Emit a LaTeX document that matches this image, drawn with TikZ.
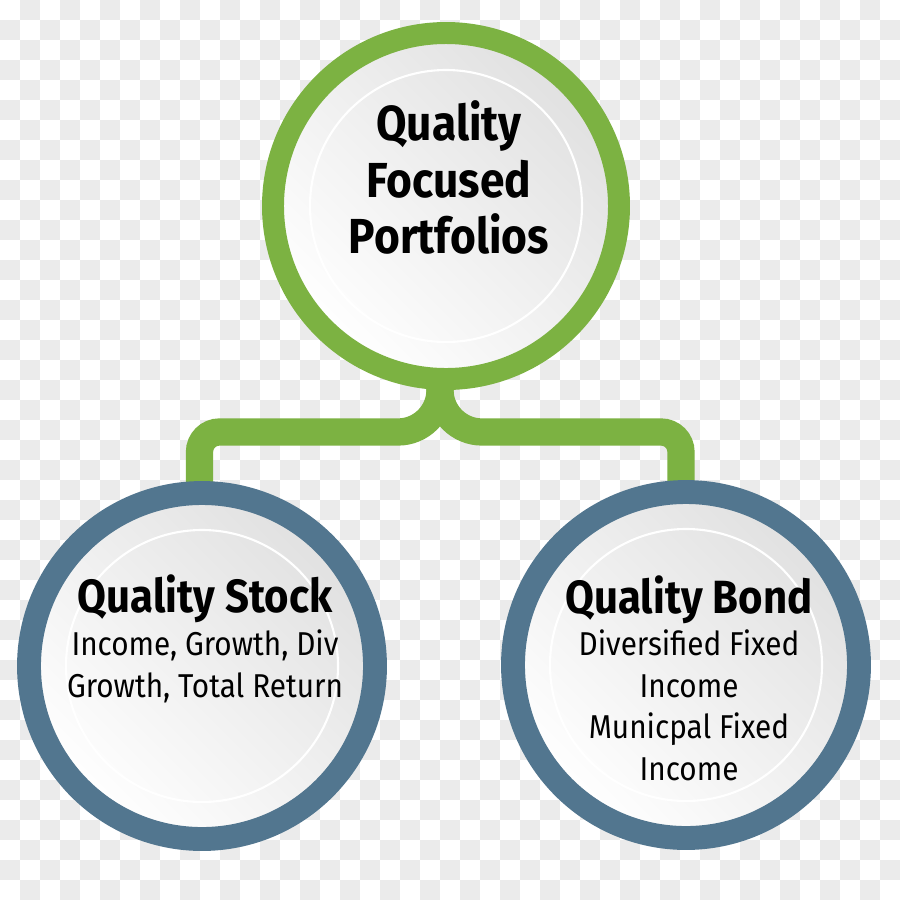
\documentclass[tikz,border=0pt]{standalone}
\usepackage{fontspec}
\setmainfont{Fira Sans}[FakeStretch=0.9]
\usetikzlibrary{calc,backgrounds}
\definecolor{ringgreen}{RGB}{124,178,66}
\definecolor{ringblue}{RGB}{82,118,143}
\definecolor{checkgray}{RGB}{235,235,235}

\begin{document}
\begin{tikzpicture}[
  greenring/.style={circle,draw=ringgreen,line width=12.5pt,minimum size=6.92cm,inner sep=0pt,
    top color=black!12,bottom color=white,shading angle=-45},
  bluering/.style={greenring,draw=ringblue,line width=13.6pt},
  glint/.style={draw=white,line width=1.2pt},
  stem/.style={draw=ringgreen,line width=15.5pt},
  title/.style={anchor=base,font=\fontsize{28}{33}\selectfont\bfseries},
  heading/.style={anchor=base,font=\fontsize{26.5}{30}\selectfont\bfseries},
  body/.style={anchor=base,font=\fontsize{18.8}{23}\selectfont}]
  \useasboundingbox (0,0) rectangle (18,-18);
  \begin{scope}[on background layer]
    \fill[white] (0,0) rectangle (18,-18);
    \foreach \j in {0,...,44}{
      \pgfmathtruncatemacro\off{mod(\j+1,2)}
      \foreach \i in {0,...,22}
        \fill[checkgray] (0.8*\i+0.4*\off,-0.4*\j) rectangle ++(0.4,-0.4);
    }
  \end{scope}

  \node[greenring] (top) at (8.92,-4.12) {};
  \node[bluering] (stock) at (4.04,-13.32) {};
  \node[bluering] (bond) at (13.72,-13.30) {};
  \foreach \n in {top,stock,bond}
    \draw[glint] (\n.center) circle[radius=2.72cm];

  \begin{scope}[on background layer]
    \draw[stem] (top.south) ++(-0.12,0.3) -- ++(0,-0.3) arc[start angle=0,end angle=-90,radius=0.84cm]
      [rounded corners=0.4cm] -| ($(stock.north)+(-0.05,-0.3)$);
    \draw[stem] (top.south) ++(-0.12,0.3) -- ++(0,-0.3) arc[start angle=180,end angle=270,radius=0.84cm]
      [rounded corners=0.4cm] -| ($(bond.north)+(-0.1,-0.3)$);
  \end{scope}

  \foreach \k/\y/\txt in {1/-2.80/Quality,2/-3.94/Focused,3/-5.06/Portfolios}
    \node[title] (title\k) at (8.98,\y) {\txt};
  \node[heading] (stockHead) at (4.10,-12.24) {Quality Stock};
  \foreach \k/\y/\txt in {1/-13.10/{Income, Growth, Div},2/-13.94/{Growth, Total Return}}
    \node[body] (stock\k) at (4.10,\y) {\txt};
  \node[heading] (bondHead) at (13.78,-12.26) {Quality Bond};
  \foreach \k/\y/\txt in {1/-13.10/Diversified Fixed,2/-13.94/Income,3/-14.76/Municpal Fixed,4/-15.60/Income}
    \node[body] (bond\k) at (13.78,\y) {\txt};
\end{tikzpicture}
\end{document}
